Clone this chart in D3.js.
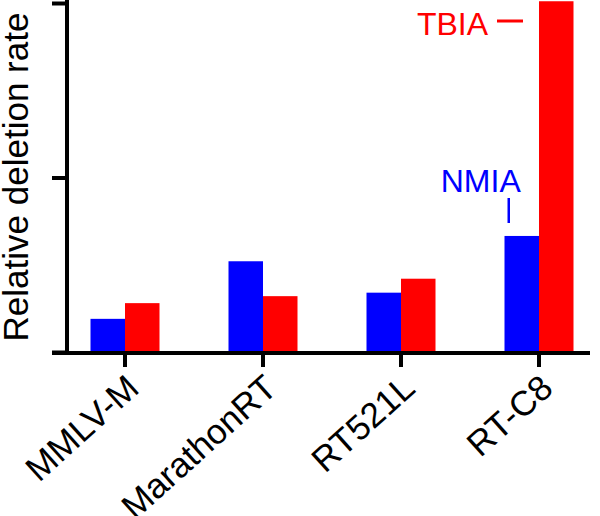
<!DOCTYPE html>
<html>
<head>
<meta charset="utf-8">
<script src="https://cdn.jsdelivr.net/npm/d3@7"></script>
<style>
body { margin: 0; background: #fff; }
text { font-family: "Liberation Sans", Arial, sans-serif; }
</style>
</head>
<body>
<div id="chart"></div>
<script>
var categories = ["MMLV-M", "MarathonRT", "RT521L", "RT-C8"];
var series = ["NMIA", "TBIA"];
var nmia = [0.19, 0.52, 0.34, 0.665];
var tbia = [0.28, 0.32, 0.42, 2.01];
var yTicks = [0, 1, 2];
var colors = {NMIA: "#0000ff", TBIA: "#ff0000"};

var width = 600, height = 516;
var y0 = 352;

var svg = d3.select("#chart")
  .append("svg")
  .attr("width", width)
  .attr("height", height);

var data = categories.map(function(c, i) {
  return {cat: c, NMIA: nmia[i], TBIA: tbia[i]};
});

var x0 = d3.scaleBand()
  .domain(categories)
  .range([56, 608])
  .paddingInner(0.5)
  .paddingOuter(0.25);

var x1 = d3.scaleBand()
  .domain(series)
  .range([0, x0.bandwidth()])
  .padding(0);

var y = d3.scaleLinear()
  .domain([0, 2])
  .range([y0, 3]);

// bars
var groups = svg.append("g").selectAll("g")
  .data(data)
  .enter().append("g")
  .attr("transform", function(d) { return "translate(" + x0(d.cat) + ",0)"; });

groups.selectAll("rect")
  .data(function(d) { return series.map(function(s) { return {key: s, value: d[s]}; }); })
  .enter().append("rect")
  .attr("x", function(d) { return x1(d.key); })
  .attr("y", function(d) { return y(d.value); })
  .attr("width", x1.bandwidth())
  .attr("height", function(d) { return y0 - y(d.value); })
  .style("fill", function(d) { return colors[d.key]; });

// y axis
var yAxis = svg.append("g")
  .attr("transform", "translate(67,0)")
  .call(d3.axisLeft(y).tickValues(yTicks).tickSize(15).tickSizeOuter(0).tickFormat(""));
yAxis.select(".domain").remove();
yAxis.selectAll(".tick line").attr("stroke", "#000").attr("stroke-width", 4);
svg.append("line")
  .attr("x1", 67).attr("x2", 67)
  .attr("y1", 0).attr("y2", y0 + 3)
  .attr("stroke", "#000").attr("stroke-width", 4);

// x axis
var xAxis = svg.append("g")
  .attr("transform", "translate(0," + (y0 + 1) + ")")
  .call(d3.axisBottom(x0).tickSize(14).tickSizeOuter(0));
xAxis.select(".domain").remove();
xAxis.selectAll(".tick line").attr("stroke", "#000").attr("stroke-width", 4);
xAxis.selectAll(".tick text")
  .style("font-size", "35px")
  .style("fill", "#000")
  .attr("text-anchor", "end")
  .attr("x", 0).attr("y", 0).attr("dy", 0)
  .attr("transform", "translate(16,38) rotate(-42)");
svg.append("line")
  .attr("x1", 52).attr("x2", 590)
  .attr("y1", y0 + 1).attr("y2", y0 + 1)
  .attr("stroke", "#000").attr("stroke-width", 4);

// y label
svg.append("text")
  .attr("transform", "translate(28," + 177 + ") rotate(-90)")
  .attr("text-anchor", "middle")
  .style("font-size", "35px")
  .text("Relative deletion rate");

// annotations
var cLast = categories[categories.length - 1];
var nmiaX = x0(cLast) + x1("NMIA") + x1.bandwidth() / 2;
svg.append("text")
  .attr("x", nmiaX - 41).attr("y", 192)
  .attr("text-anchor", "middle")
  .style("font-size", "32px")
  .style("fill", colors.NMIA)
  .text("NMIA");
svg.append("line")
  .attr("x1", nmiaX - 13).attr("x2", nmiaX - 13)
  .attr("y1", 198).attr("y2", 223)
  .attr("stroke", colors.NMIA).attr("stroke-width", 2.5);

var tbiaX = x0(cLast) + x1("TBIA");
svg.append("text")
  .attr("x", tbiaX - 51).attr("y", 35)
  .attr("text-anchor", "end")
  .style("font-size", "32px")
  .style("fill", colors.TBIA)
  .text("TBIA");
svg.append("line")
  .attr("x1", tbiaX - 42).attr("x2", tbiaX - 16)
  .attr("y1", 21).attr("y2", 21)
  .attr("stroke", colors.TBIA).attr("stroke-width", 3);
</script>
</body>
</html>
